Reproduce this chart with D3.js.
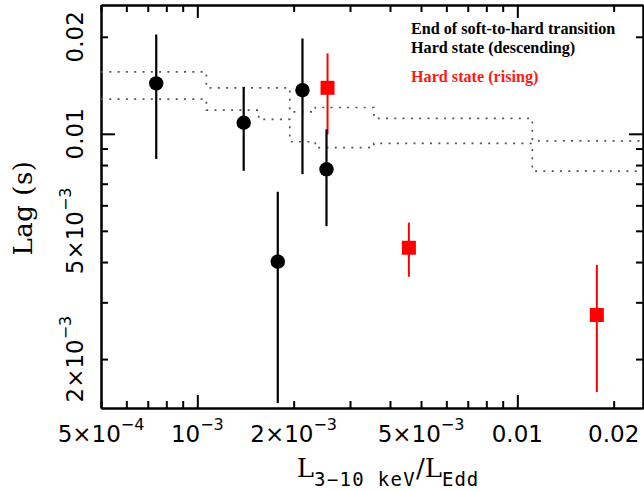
<!DOCTYPE html>
<html>
<head>
<meta charset="utf-8">
<script src="https://cdn.jsdelivr.net/npm/d3@7"></script>
<style>
  body { margin: 0; background: #fff; overflow: hidden; }
  svg { display: block; }
</style>
</head>
<body>
<svg></svg>
<script>
// hard state (descending) + end of soft-to-hard transition
const descLum = [7.44e-4, 1.396e-3, 2.131e-3, 2.533e-3, 1.784e-3];
const descLag = [0.01433, 0.01082, 0.01366, 0.00776, 0.00401];
const descLagLo = [0.00835, 0.00768, 0.0075, 0.00517, 0.00146];
const descLagHi = [0.02033, 0.01399, 0.01976, 0.01032, 0.00661];

// hard state (rising)
const riseLum = [2.552e-3, 4.583e-3, 0.01772];
const riseLag = [0.01389, 0.00443, 0.00274];
const riseLagLo = [0.00996, 0.0036, 0.00158];
const riseLagHi = [0.01776, 0.0053, 0.00392];

// dotted envelope (step bins)
const binEdges = [5e-4, 1.067e-3, 1.555e-3, 1.945e-3, 2.337e-3, 3.562e-3, 0.01114, 0.0247];
const envUpper = [0.01557, 0.01389, 0.01389, 0.0117, 0.01207, 0.01116, 0.00951];
const envLower = [0.01281, 0.01184, 0.01108, 0.00945, 0.00906, 0.00934, 0.00766];

// tick labels
const xTicks = [5e-4, 1e-3, 2e-3, 5e-3, 0.01, 0.02];
const xTickLabels = [["5×10", "−4"], ["10", "−3"], ["2×10", "−3"], ["5×10", "−3"], ["0.01", ""], ["0.02", ""]];
const yTicks = [2e-3, 5e-3, 0.01, 0.02];
const yTickLabels = [["2×10", "−3"], ["5×10", "−3"], ["0.01", ""], ["0.02", ""]];

const legendLines = [
  { text: "End of soft-to-hard transition", color: "#000" },
  { text: "Hard state (descending)", color: "#000" },
  { text: "Hard state (rising)", color: "#ff1a10" }
];

const width = 644;
const height = 492;
const margin = { top: 5, right: 1, bottom: 84, left: 101 };
const innerWidth = width - margin.left - margin.right;
const innerHeight = height - margin.top - margin.bottom;

const svg = d3.select("svg").attr("width", width).attr("height", height);

svg.append("defs").append("clipPath").attr("id", "clip")
  .append("rect").attr("width", innerWidth).attr("height", innerHeight);

const x = d3.scaleLog().domain([5e-4, 0.0247]).range([0, innerWidth]);
const y = d3.scaleLog().domain([1.41e-3, 0.0251]).range([innerHeight, 0]);

const g = svg.append("g").attr("transform", `translate(${margin.left},${margin.top})`);

// minor / major tick values
function logTicks(scale) {
  const [a, b] = scale.domain().slice().sort((p, q) => p - q);
  const major = [], minor = [];
  for (let e = Math.floor(Math.log10(a)); e <= Math.ceil(Math.log10(b)); e++) {
    for (let k = 1; k <= 9; k++) {
      const v = k * Math.pow(10, e);
      if (v < a * 0.999 || v > b * 1.001) continue;
      (k === 1 ? major : minor).push(v);
    }
  }
  return { major, minor };
}
const xt = logTicks(x);
const yt = logTicks(y);

function drawAxis(axisFn, scale, vals, size, transform) {
  const a = g.append("g")
    .attr("transform", transform)
    .call(axisFn(scale).tickValues(vals).tickSizeInner(-size).tickSizeOuter(0).tickFormat(""));
  a.select(".domain").attr("stroke", "#000").attr("stroke-width", 2);
  a.selectAll(".tick line").attr("stroke", "#000").attr("stroke-width", 2);
  a.selectAll(".tick text").remove();
}

drawAxis(d3.axisBottom, x, xt.minor, 7, `translate(0,${innerHeight})`);
drawAxis(d3.axisBottom, x, xt.major, 13, `translate(0,${innerHeight})`);
drawAxis(d3.axisTop, x, xt.minor, 7, "translate(0,0)");
drawAxis(d3.axisTop, x, xt.major, 13, "translate(0,0)");
drawAxis(d3.axisLeft, y, yt.minor, 7, "translate(0,0)");
drawAxis(d3.axisLeft, y, yt.major, 14, "translate(0,0)");
drawAxis(d3.axisRight, y, yt.minor, 7, `translate(${innerWidth},0)`);
drawAxis(d3.axisRight, y, yt.major, 14, `translate(${innerWidth},0)`);

// text made of pieces (superscripts / subscripts), centred as a whole
function composite(parent, parts, transform) {
  const grp = parent.append("g").attr("transform", transform);
  const nodes = parts.filter((p) => p.text !== "").map((p) =>
    grp.append("text")
      .attr("y", p.dy || 0)
      .attr("font-family", p.family)
      .attr("font-size", p.size)
      .attr("letter-spacing", p.ls || 0)
      .attr("fill", "#000")
      .text(p.text)
  );
  const widths = nodes.map((n) => n.node().getComputedTextLength());
  let pos = -d3.sum(widths) / 2;
  nodes.forEach((n, i) => {
    n.attr("x", pos);
    pos += widths[i];
  });
  return grp;
}

const tickFont = "'DejaVu Sans', sans-serif";
xTicks.forEach((v, i) => {
  composite(svg, [
    { text: xTickLabels[i][0], size: 23, family: tickFont },
    { text: xTickLabels[i][1], size: 16, family: tickFont, dy: -12 }
  ], `translate(${margin.left + x(v)},${margin.top + innerHeight + 33.5})`);
});
yTicks.forEach((v, i) => {
  composite(svg, [
    { text: yTickLabels[i][0], size: 23, family: tickFont },
    { text: yTickLabels[i][1], size: 16, family: tickFont, dy: -12 }
  ], `translate(${margin.left - 18},${margin.top + y(v)}) rotate(-90)`);
});

// axis titles
const serif = "'DejaVu Serif', serif";
const mono = "'DejaVu Sans Mono', monospace";
composite(svg, [
  { text: "L", size: 26, family: serif },
  { text: "3−10 keV", size: 19, family: mono, dy: 9, ls: 1.3 },
  { text: "/L", size: 26, family: serif },
  { text: "Edd", size: 19, family: mono, dy: 9, ls: 1 }
], "translate(388,476.5)");

composite(svg, [
  { text: "Lag (s)", size: 26, family: serif, ls: 0.5 }
], "translate(32,208) rotate(-90)");

// dotted envelope
const plot = g.append("g").attr("clip-path", "url(#clip)");
const step = d3.line()
  .x((d) => x(d[0]))
  .y((d) => y(d[1]))
  .curve(d3.curveStepAfter);

[envUpper, envLower].forEach((vals) => {
  const pts = vals.map((v, i) => [binEdges[i], v]);
  pts.push([binEdges[binEdges.length - 1], vals[vals.length - 1]]);
  plot.append("path")
    .attr("d", step(pts))
    .attr("fill", "none")
    .attr("stroke", "#555")
    .attr("stroke-width", 1.7)
    .attr("stroke-dasharray", "2,6.3");
});

// rising: red error bars + squares
const rise = riseLum.map((v, i) => ({ l: v, lag: riseLag[i], lo: riseLagLo[i], hi: riseLagHi[i] }));
const desc = descLum.map((v, i) => ({ l: v, lag: descLag[i], lo: descLagLo[i], hi: descLagHi[i] }));

plot.selectAll(".rbar")
  .data(rise)
  .enter()
  .append("line")
  .attr("x1", (d) => x(d.l))
  .attr("x2", (d) => x(d.l))
  .attr("y1", (d) => y(d.lo))
  .attr("y2", (d) => y(d.hi))
  .attr("stroke", "#ff0000")
  .attr("stroke-width", 2);

plot.selectAll(".rsq")
  .data(rise)
  .enter()
  .append("rect")
  .attr("x", (d) => x(d.l) - 7)
  .attr("y", (d) => y(d.lag) - 7)
  .attr("width", 14)
  .attr("height", 14)
  .attr("fill", "#ff0000");

plot.selectAll(".dbar")
  .data(desc)
  .enter()
  .append("line")
  .attr("x1", (d) => x(d.l))
  .attr("x2", (d) => x(d.l))
  .attr("y1", (d) => y(d.lo))
  .attr("y2", (d) => y(d.hi))
  .attr("stroke", "#000")
  .attr("stroke-width", 2.2);

plot.selectAll(".dpt")
  .data(desc)
  .enter()
  .append("circle")
  .attr("cx", (d) => x(d.l))
  .attr("cy", (d) => y(d.lag))
  .attr("r", 7.2)
  .attr("fill", "#000");

// legend, sized so the first line is as wide as in the original
const legendBaselines = [34.3, 53.3, 81.7];
const leg = svg.selectAll(".leg")
  .data(legendLines)
  .enter()
  .append("text")
  .attr("class", "leg")
  .attr("x", 411)
  .attr("y", (d, i) => legendBaselines[i])
  .attr("font-family", "'Liberation Serif', 'Times New Roman', serif")
  .attr("font-weight", "bold")
  .attr("font-size", 16)
  .attr("fill", (d) => d.color)
  .text((d) => d.text);

const firstLen = leg.node().getComputedTextLength();
if (firstLen > 0) leg.attr("font-size", 16 * 204.5 / firstLen);
</script>
</body>
</html>
